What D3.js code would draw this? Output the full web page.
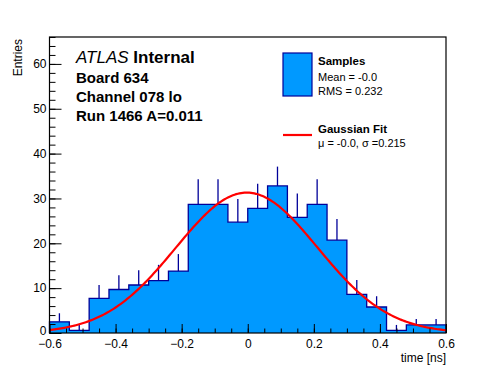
<!DOCTYPE html>
<html>
<head>
<meta charset="utf-8">
<script src="https://cdn.jsdelivr.net/npm/d3@7"></script>
<style>
  body { margin: 0; background: #fff; }
  text { font-family: "Liberation Sans", Arial, sans-serif; }
</style>
</head>
<body>
<div id="chart"></div>
<script>
// histogram: 20 bins from -0.6 to 0.6 ns
var binLow = [-0.6, -0.54, -0.48, -0.42, -0.36, -0.30, -0.24, -0.18, -0.12, -0.06,
              0.0, 0.06, 0.12, 0.18, 0.24, 0.30, 0.36, 0.42, 0.48, 0.54];
var binWidth = 0.06;
var counts = [2.5, 0.6, 7.7, 9.7, 10.7, 11.7, 13.8, 28.7, 28.7, 24.7,
              27.8, 32.8, 25.8, 28.7, 20.7, 8.6, 5.8, 0.6, 1.8, 1.8];
var errors = [1.9, 1.2, 3.0, 3.2, 3.3, 3.5, 3.8, 5.6, 5.6, 5.2,
              5.5, 4.3, 5.3, 5.6, 4.7, 3.2, 2.4, 1.2, 1.3, 1.3];

// gaussian fit parameters
var fitAmp = 31.3, fitMean = -0.003, fitSigma = 0.215;

var xTicks = [-0.6, -0.4, -0.2, 0, 0.2, 0.4, 0.6];
var yTicks = [0, 10, 20, 30, 40, 50, 60];

var infoLines = ["Board 634", "Channel 078 lo", "Run 1466 A=0.011"];

var W = 496, H = 372;
var frame = {left: 49.5, right: 446, top: 37, bottom: 333};

var svg = d3.select("#chart").append("svg")
  .attr("width", W)
  .attr("height", H);

var x = d3.scaleLinear().domain([-0.6, 0.6]).range([frame.left, frame.right]);
var y = d3.scaleLinear().domain([0, 66]).range([frame.bottom, frame.top]);

// error bars (only the upper half shows above the filled bars)
svg.append("g").selectAll("line")
  .data(counts)
  .enter().append("line")
  .attr("x1", function(d, i){ return x(binLow[i] + binWidth/2); })
  .attr("x2", function(d, i){ return x(binLow[i] + binWidth/2); })
  .attr("y1", function(d){ return y(d); })
  .attr("y2", function(d, i){ return y(d + errors[i]); })
  .attr("stroke", "#000099")
  .attr("stroke-width", 1.3);

// staircase outline of histogram
var pts = [[binLow[0], 0]];
counts.forEach(function(c, i){
  pts.push([binLow[i], c]);
  pts.push([binLow[i] + binWidth, c]);
});
pts.push([binLow[binLow.length-1] + binWidth, 0]);

var stair = d3.line()
  .x(function(d){ return x(d[0]); })
  .y(function(d){ return y(d[1]); });

svg.append("path")
  .attr("d", stair(pts))
  .attr("fill", "#0099ff")
  .attr("stroke", "#000099")
  .attr("stroke-width", 1.3);

// gaussian curve
var curvePts = d3.range(0, 241).map(function(k){
  var xv = -0.6 + k * 0.005;
  return [xv, fitAmp * Math.exp(-0.5 * Math.pow((xv - fitMean) / fitSigma, 2))];
});
svg.append("path")
  .attr("d", stair(curvePts))
  .attr("fill", "none")
  .attr("stroke", "#ff0000")
  .attr("stroke-width", 2.2);

// axes with ticks pointing inward
function styleAxis(g){
  g.select(".domain").remove();
  g.selectAll("line").attr("stroke", "#000");
  g.selectAll("text")
    .attr("font-family", "Liberation Sans, Arial, sans-serif")
    .attr("font-size", 12)
    .attr("fill", "#000");
}

var xMinor = d3.range(-12, 13).map(function(k){ return k * 0.05; });
svg.append("g")
  .attr("transform", "translate(0," + frame.bottom + ")")
  .call(d3.axisBottom(x).tickValues(xMinor).tickSize(-4.5).tickFormat(""))
  .call(styleAxis);
svg.append("g")
  .attr("transform", "translate(0," + frame.bottom + ")")
  .call(d3.axisBottom(x).tickValues(xTicks).tickSize(-9).tickPadding(6)
    .tickFormat(function(d){ return d === 0 ? "0" : d3.format(".1f")(d); }))
  .call(styleAxis)
  .selectAll("text").attr("y", 6).attr("dy", "0.75em");

var yMinor = d3.range(0, 34).map(function(k){ return k * 2; });
svg.append("g")
  .attr("transform", "translate(" + frame.left + ",0)")
  .call(d3.axisLeft(y).tickValues(yMinor).tickSize(-6).tickFormat(""))
  .call(styleAxis);
var yAx = svg.append("g")
  .attr("transform", "translate(" + frame.left + ",0)")
  .call(d3.axisLeft(y).tickValues(yTicks).tickSize(-12).tickPadding(3))
  .call(styleAxis);
yAx.selectAll("text").attr("x", -3);
// the zero label sits a little high so it clears the x labels
yAx.selectAll("text").filter(function(d){ return d === 0; }).attr("dy", "0.1em");

// frame
svg.append("rect")
  .attr("x", frame.left).attr("y", frame.top)
  .attr("width", frame.right - frame.left)
  .attr("height", frame.bottom - frame.top)
  .attr("fill", "none")
  .attr("stroke", "#000")
  .attr("stroke-width", 1.2);

// axis titles
svg.append("text")
  .attr("x", frame.right).attr("y", 362)
  .attr("text-anchor", "end")
  .attr("font-size", 12)
  .text("time [ns]");

svg.append("text")
  .attr("transform", "translate(22,39) rotate(-90)")
  .attr("text-anchor", "end")
  .attr("font-size", 12)
  .text("Entries");

// ATLAS label and info
var atlas = svg.append("text")
  .attr("x", 76).attr("y", 63)
  .attr("font-size", 17);
atlas.append("tspan").attr("font-style", "italic").text("ATLAS");
atlas.append("tspan").attr("font-weight", "bold").text(" Internal");

svg.selectAll(".info")
  .data(infoLines)
  .enter().append("text")
  .attr("class", "info")
  .attr("x", 76)
  .attr("y", function(d, i){ return 83 + i * 19; })
  .attr("font-size", 15)
  .attr("font-weight", "bold")
  .text(function(d){ return d; });

// legend
var legend = svg.append("g");
legend.append("rect")
  .attr("x", 283).attr("y", 53)
  .attr("width", 29).attr("height", 43)
  .attr("fill", "#0099ff")
  .attr("stroke", "#000099")
  .attr("stroke-width", 1.2);
legend.append("text").attr("x", 318).attr("y", 65)
  .attr("font-size", 11.5).attr("font-weight", "bold").text("Samples");
legend.append("text").attr("x", 318).attr("y", 81)
  .attr("font-size", 11).text("Mean = -0.0");
legend.append("text").attr("x", 318).attr("y", 95)
  .attr("font-size", 11).text("RMS = 0.232");

legend.append("line")
  .attr("x1", 283).attr("x2", 312)
  .attr("y1", 135).attr("y2", 135)
  .attr("stroke", "#ff0000")
  .attr("stroke-width", 2.2);
legend.append("text").attr("x", 318).attr("y", 133)
  .attr("font-size", 11.5).attr("font-weight", "bold").text("Gaussian Fit");
legend.append("text").attr("x", 318).attr("y", 147)
  .attr("font-size", 11).text("\u03bc = -0.0, \u03c3 =0.215");
</script>
</body>
</html>
